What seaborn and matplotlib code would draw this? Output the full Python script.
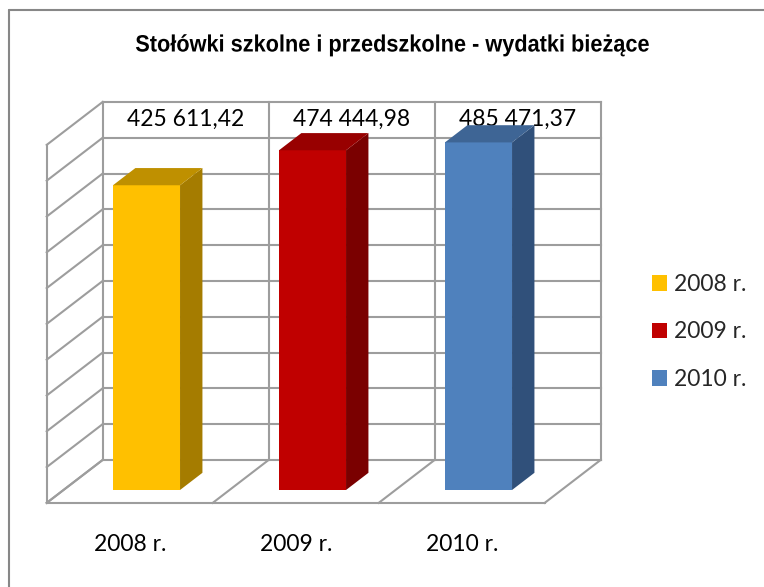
import matplotlib
matplotlib.use("Agg")
import matplotlib.pyplot as plt
import seaborn as sns
from matplotlib.patches import Polygon
from matplotlib.lines import Line2D
from matplotlib.patheffects import AbstractPathEffect
from matplotlib.transforms import Affine2D
from matplotlib import font_manager

# ---- data -------------------------------------------------------------
years = ["2008 r.", "2009 r.", "2010 r."]
values = [425611.42, 474444.98, 485471.37]
value_labels = ["425 611,42", "474 444,98", "485 471,37"]
title = "Stołówki szkolne i przedszkolne - wydatki bieżące"
grid_values = list(range(0, 500001, 50000))

front_colors = ["#FFC000", "#C00000", "#4F81BD"]
top_colors = ["#BF9000", "#980000", "#3E6595"]
side_colors = ["#A57C00", "#7A0000", "#30507A"]

# ---- figure / projection ---------------------------------------------
W, H, DPI = 764, 587, 100
sns.set_theme(style="white")
plt.rcParams["font.family"] = ["Lato", "DejaVu Sans"]

installed = {f.name for f in font_manager.fontManager.ttflist}
narrow = "Liberation Sans Narrow" in installed
title_family = ["Liberation Sans Narrow" if narrow else "Liberation Sans", "DejaVu Sans"]

fig = plt.figure(figsize=(W / DPI, H / DPI), dpi=DPI)
fig.patch.set_facecolor("white")
ax = fig.add_axes([0, 0, 1, 1])

CAT_PX = 166.0      # width of one category, pixels
X0_PX = 146.5       # centre of first bar front face, pixels from left
FLOOR_PX = 490.0    # bottom of bar front faces, pixels from top
K = 0.000716        # pixels per unit of value
DEPTH_DX, DEPTH_DY = 56.0, 43.0   # oblique offset of the full floor depth
BAR_T0, BAR_T1 = 0.3, 0.7         # bar depth range (0 = front, 1 = back wall)

dc = DEPTH_DX / CAT_PX
dv = DEPTH_DY / K


def P(c, v, t):
    """Project (category, value, depth) onto the data plane of the bar fronts."""
    return c + (t - BAR_T0) * dc, v + (t - BAR_T0) * dv


class Squeeze(AbstractPathEffect):
    """Draw text glyphs compressed horizontally about a fixed x position."""

    def __init__(self, sx, cx):
        super().__init__()
        self.sx, self.cx = sx, cx

    def draw_path(self, renderer, gc, tpath, affine, rgbFace=None):
        squeeze = Affine2D().translate(-self.cx, 0).scale(self.sx, 1).translate(self.cx, 0)
        renderer.draw_path(gc, tpath, affine + squeeze, rgbFace)


sns.barplot(x=years, y=values, hue=years, palette=front_colors, width=0.404,
            saturation=1, legend=False, ax=ax, zorder=3, linewidth=0)

ax.set_xlim(-X0_PX / CAT_PX, (W - X0_PX) / CAT_PX)
ax.set_ylim((FLOOR_PX - H) / K, FLOOR_PX / K)
ax.axis("off")

GRID = "#9D9D9D"
LW = 1.5
n = len(years)
c_lo, c_hi = -0.5, n - 0.5
v_top = grid_values[-1]


def seg(p, q):
    ax.plot([p[0], q[0]], [p[1], q[1]], color=GRID, lw=LW, zorder=1,
            solid_capstyle="projecting")


# back wall and left wall
for g in grid_values:
    seg(P(c_lo, g, 1), P(c_hi, g, 1))
    seg(P(c_lo, g, 0), P(c_lo, g, 1))
for k in range(n + 1):
    c = c_lo + k
    seg(P(c, 0, 1), P(c, v_top, 1))
    seg(P(c, 0, 0), P(c, 0, 1))
seg(P(c_lo, 0, 0), P(c_lo, v_top, 0))
seg(P(c_lo, 0, 0), P(c_hi, 0, 0))

# value labels in the top row of the back wall
for i, lab in enumerate(value_labels):
    x, y = P(i, (grid_values[-1] + grid_values[-2]) / 2, 1)
    ax.text(x, y, lab, ha="center", va="center", fontsize=16.5,
            color="black", zorder=2)

# 3-D faces of each bar
bars = [cont[0] for cont in ax.containers]
for i, b in enumerate(bars):
    x0 = b.get_x()
    x1 = x0 + b.get_width()
    h = b.get_height()
    side = [P(x1, 0, BAR_T0), P(x1, h, BAR_T0), P(x1, h, BAR_T1), P(x1, 0, BAR_T1)]
    top = [P(x0, h, BAR_T0), P(x1, h, BAR_T0), P(x1, h, BAR_T1), P(x0, h, BAR_T1)]
    ax.add_patch(Polygon(side, closed=True, facecolor=side_colors[i],
                         edgecolor="none", zorder=3))
    ax.add_patch(Polygon(top, closed=True, facecolor=top_colors[i],
                         edgecolor="none", zorder=3))

# category labels under the floor
for i, lab in enumerate(years):
    ax.annotate(lab, xy=P(i, 0, 0), xytext=(0, -30), textcoords="offset points",
                ha="center", va="center", fontsize=16.5, color="black")

ax.legend(bars, years, loc="center left",
          bbox_to_anchor=(652 / W, 1 - 332 / H), bbox_transform=fig.transFigure,
          frameon=False, fontsize=16.5, handlelength=0.65, handleheight=0.65,
          handletextpad=0.3, labelspacing=1.16, borderpad=0, borderaxespad=0)

TITLE_X = 392.5
title_text = fig.text(TITLE_X / W, 1 - 45 / H, title, ha="center", va="center",
                      fontsize=17, fontweight="bold", family=title_family,
                      color="black")
if not narrow:
    title_text.set_path_effects([Squeeze(0.92, TITLE_X)])

# chart area border (left and top edges)
BORDER = "#878787"
fig.add_artist(Line2D([9 / W, 9 / W], [0, 1 - 10 / H], transform=fig.transFigure,
                      color=BORDER, lw=1.5))
fig.add_artist(Line2D([9 / W, 1], [1 - 10 / H, 1 - 10 / H], transform=fig.transFigure,
                      color=BORDER, lw=1.5))

fig.savefig("out.png", dpi=DPI, facecolor="white")
